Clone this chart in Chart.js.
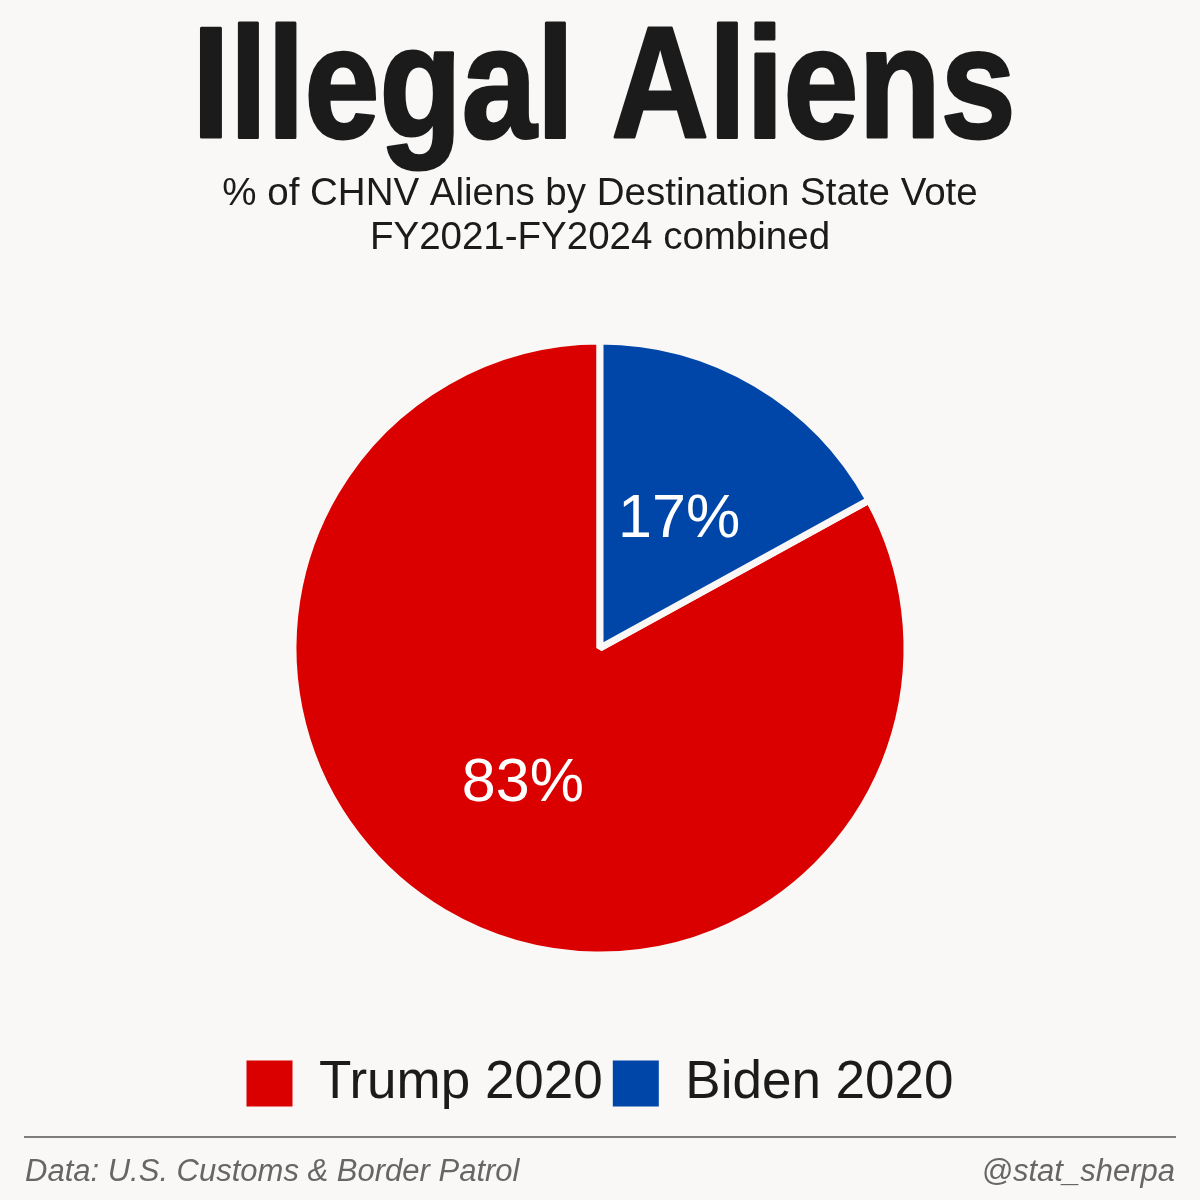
<!DOCTYPE html>
<html>
<head>
<meta charset="utf-8">
<title>Illegal Aliens</title>
<script src="https://cdn.jsdelivr.net/npm/chart.js@4.4.1/dist/chart.umd.min.js"></script>
<style>
    html, body { margin: 0; padding: 0; background: #f9f8f6; }
    #chart-wrap { width: 1200px; height: 1200px; }
</style>
</head>
<body>
<div id="chart-wrap"><canvas id="vote-chart" width="1200" height="1200"></canvas></div>
<script>
// --- Data ---
const voteLabels = ['Trump 2020', 'Biden 2020'];
const voteShares = [83, 17];
const voteColors = ['#da0000', '#0045a8'];
const titleText = 'Illegal Aliens';
const subtitleLines = ['% of CHNV Aliens by Destination State Vote', 'FY2021-FY2024 combined'];
const sourceText = 'Data: U.S. Customs & Border Patrol';
const handleText = '@stat_sherpa';

const bgColor = '#f9f8f6';
const inkColor = '#1b1b1b';
const sansFont = '"Liberation Sans", Arial, Helvetica, sans-serif';

// Biden slice starts at 12 o'clock, so rotate the Trump slice past it
const totalShare = voteShares.reduce((a, b) => a + b, 0);
const startRotation = voteShares[1] / totalShare * 360;

// --- Big condensed headline (no narrow font installed, so squeeze it) ---
const headline = {
    id: 'headline',
    afterDraw(chart) {
        const ctx = chart.ctx;
        const targetWidth = 826;
        ctx.save();
        ctx.font = 'bold 158px ' + sansFont;
        ctx.fillStyle = inkColor;
        ctx.strokeStyle = inkColor;
        ctx.lineWidth = 3;
        ctx.lineJoin = 'round';
        ctx.textAlign = 'center';
        ctx.textBaseline = 'alphabetic';
        const w = ctx.measureText(titleText).width + 3;
        ctx.translate(604, 137);
        ctx.scale(targetWidth / w, 1);
        ctx.fillText(titleText, 0, 0);
        ctx.strokeText(titleText, 0, 0);
        ctx.restore();
    }
};

// --- Percentage labels inside the slices ---
const sliceLabels = {
    id: 'sliceLabels',
    afterDatasetsDraw(chart) {
        const ctx = chart.ctx;
        const meta = chart.getDatasetMeta(0);
        ctx.save();
        ctx.fillStyle = '#ffffff';
        ctx.font = '61px ' + sansFont;
        ctx.textAlign = 'center';
        ctx.textBaseline = 'middle';
        meta.data.forEach((arc, i) => {
            const pos = arc.tooltipPosition();
            const value = chart.data.datasets[0].data[i];
            ctx.fillText(Math.round(value / totalShare * 100) + '%', pos.x + 1, pos.y + 4);
        });
        ctx.restore();
    }
};

// --- Rule and source line at the bottom ---
const footerNote = {
    id: 'footerNote',
    afterDraw(chart) {
        const ctx = chart.ctx;
        ctx.save();
        ctx.strokeStyle = '#555555';
        ctx.lineWidth = 1.5;
        ctx.beginPath();
        ctx.moveTo(24, 1137);
        ctx.lineTo(1176, 1137);
        ctx.stroke();

        ctx.fillStyle = '#666666';
        ctx.font = 'italic 31px ' + sansFont;
        ctx.textBaseline = 'alphabetic';
        ctx.textAlign = 'left';
        ctx.fillText(sourceText, 25, 1181);
        ctx.textAlign = 'right';
        ctx.fillText(handleText, 1175, 1181);
        ctx.restore();
    }
};

const canvasBackground = {
    id: 'canvasBackground',
    beforeDraw(chart) {
        const ctx = chart.ctx;
        ctx.save();
        ctx.fillStyle = bgColor;
        ctx.fillRect(0, 0, chart.width, chart.height);
        ctx.restore();
    }
};

const voteChart = new Chart(document.getElementById('vote-chart'), {
    type: 'pie',
    data: {
        labels: voteLabels,
        datasets: [{
            data: voteShares,
            backgroundColor: voteColors,
            borderColor: bgColor,
            borderWidth: 7,
            hoverOffset: 0
        }]
    },
    plugins: [canvasBackground, sliceLabels, footerNote, headline],
    options: {
        responsive: false,
        devicePixelRatio: 1,
        animation: false,
        rotation: startRotation,
        radius: 307,
        layout: {
            padding: { top: 0, bottom: 80, left: 0, right: 0 }
        },
        plugins: {
            title: { display: false },
            subtitle: {
                display: true,
                text: subtitleLines,
                color: inkColor,
                font: { family: sansFont, size: 38.5, lineHeight: 1.13 },
                padding: { top: 173, bottom: -11 }
            },
            legend: {
                position: 'bottom',
                labels: {
                    color: inkColor,
                    font: { family: sansFont, size: 53 },
                    boxWidth: 46,
                    boxHeight: 46,
                    padding: 10,
                    generateLabels: chart => Chart.overrides.pie.plugins.legend.labels
                        .generateLabels(chart)
                        .map(item => ({ ...item, lineWidth: 0 }))
                }
            },
            tooltip: { enabled: false }
        }
    }
});
</script>
</body>
</html>
